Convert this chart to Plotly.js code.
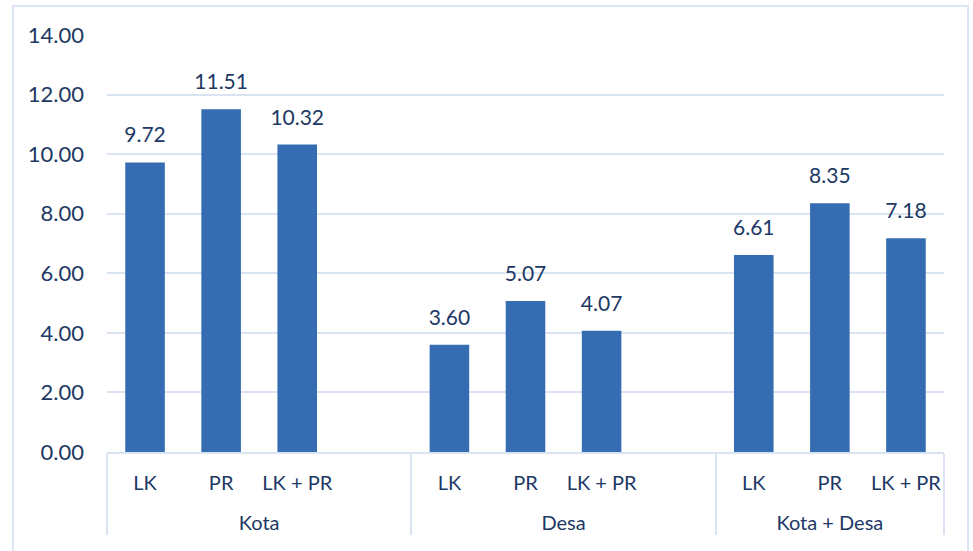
<!DOCTYPE html>
<html>
<head>
<meta charset="utf-8">
<script src="https://cdn.plot.ly/plotly-3.0.1.min.js"></script>
<style>
  html, body { margin: 0; padding: 0; background: #ffffff; }
  #wrap { position: relative; width: 973px; height: 551px; overflow: hidden; }
  #frame { position: absolute; left: 12px; top: 5px; width: 957px; height: 560px;
           border: 2px solid #dbe5f3; box-sizing: border-box; pointer-events: none; }
  #chart { position: absolute; left: 0; top: 0; width: 973px; height: 551px; }
</style>
</head>
<body>
<div id="wrap">
  <div id="chart"></div>
  <div id="frame"></div>
</div>
<script>
// ---- data ----
const groups = ["Kota", "Kota", "Kota", "Kota", "Desa", "Desa", "Desa", "Desa", "Kota + Desa", "Kota + Desa", "Kota + Desa"];
const subcategories = ["LK", "PR", "LK + PR", " ", "LK", "PR", "LK + PR", "  ", "LK", "PR", "LK + PR"];
const values = [9.72, 11.51, 10.32, null, 3.60, 5.07, 4.07, null, 6.61, 8.35, 7.18];
const yTicks = [0, 2, 4, 6, 8, 10, 12, 14];

// ---- styles ----
const textColor = "#203864";
const gridColor = "#d9e3f2";
const barColor = "#356cb2";
const fontFamily = "Lato, 'Open Sans', sans-serif";

const labels = values.map(v => (v === null ? "" : v.toFixed(2)));
// extra blank line above the group names pushes them further below the sub-labels
const groupLabels = groups.map(g => "<br>" + g);

const bars = {
  type: "bar",
  x: [groupLabels, subcategories],
  y: values,
  width: 0.52,
  marker: { color: barColor, line: { width: 0 } },
  hoverinfo: "skip",
  showlegend: false
};

const valueLabels = {
  type: "scatter",
  mode: "markers+text",
  x: [groupLabels, subcategories],
  y: values,
  text: labels,
  textposition: "top center",
  textfont: { family: fontFamily, size: 21, color: textColor },
  marker: { size: 22, opacity: 0 },
  hoverinfo: "skip",
  showlegend: false,
  cliponaxis: false
};

const layout = {
  width: 973,
  height: 551,
  margin: { l: 107, r: 29, t: 35, b: 99 },
  paper_bgcolor: "rgba(0,0,0,0)",
  plot_bgcolor: "rgba(0,0,0,0)",
  font: { family: fontFamily, size: 21, color: textColor },
  showlegend: false,
  xaxis: {
    type: "multicategory",
    range: [-0.5, 10.5],
    autorange: false,
    tickangle: 0,
    showline: true,
    linecolor: gridColor,
    linewidth: 2,
    showgrid: false,
    zeroline: false,
    ticks: "",
    ticklabelstandoff: 12,
    showdividers: true,
    dividercolor: gridColor,
    dividerwidth: 2,
    tickfont: { family: fontFamily, size: 20, color: textColor }
  },
  yaxis: {
    range: [0, 14],
    tickvals: yTicks,
    ticktext: yTicks.map(v => v.toFixed(2)),
    showgrid: true,
    gridcolor: gridColor,
    gridwidth: 2,
    zeroline: false,
    showline: false,
    ticks: "",
    ticklabelstandoff: 22,
    tickfont: { family: fontFamily, size: 22, color: textColor }
  }
};

Plotly.newPlot("chart", [bars, valueLabels], layout, { staticPlot: true, displayModeBar: false });
</script>
</body>
</html>
